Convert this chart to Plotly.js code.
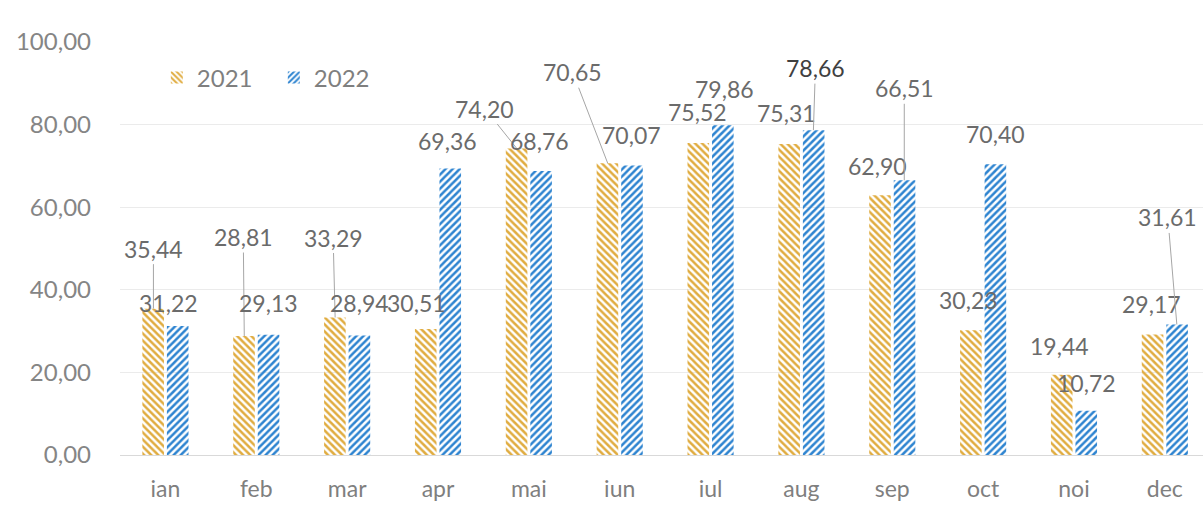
<!DOCTYPE html>
<html>
<head>
<meta charset="utf-8">
<script src="https://cdn.plot.ly/plotly-3.0.1.min.js"></script>
<style>html,body{margin:0;padding:0;background:#fff;}#chart{width:1203px;height:507px;}</style>
</head>
<body>
<div id="chart"></div>
<script>
// ---- data ----
const months = ['ian','feb','mar','apr','mai','iun','iul','aug','sep','oct','noi','dec'];
const seriesNames = ['2021', '2022'];
const values2021 = [35.44, 28.81, 33.29, 30.51, 74.20, 70.65, 75.52, 75.31, 62.90, 30.23, 19.44, 29.17];
const values2022 = [31.22, 29.13, 28.94, 69.36, 68.76, 70.07, 79.86, 78.66, 66.51, 70.40, 10.72, 31.61];
const yTickValues = [0, 20, 40, 60, 80, 100];

// ---- label placement (pixel offsets of label centre from bar top; leader flag) ----
const labelOffsets2021 = [[0,-60],[-1,-99],[-2,-80],[-9,-26],[-32,-40],[-35,-91],[-1,-31],[-3,-31],[-3,-29],[-3,-30],[-2,-29],[-1,-31]];
const leader2021 = [true,true,true,false,true,true,false,false,false,false,false,false];
const labelOffsets2022 = [[-9,-23],[0,-32],[0,-32],[-2,-28],[-1,-30],[0,-31],[2,-36],[2,-62],[0,-92],[0,-30],[1,-28],[-9,-107]];
const leader2022 = [false,false,false,false,false,false,false,true,true,false,false,true];

const FONT = 'Lato, "Open Sans", "Noto Sans", sans-serif';
const fmt = v => v.toFixed(2).replace('.', ',');

const gold = {bg: '#F7DE9F', fg: '#E0AC40'};
const blue = {bg: '#B3D9F4', fg: '#2E84D0'};

const traces = [
  {
    type: 'bar', name: seriesNames[0], x: months, y: values2021,
    marker: {color: gold.bg, line: {width: 0},
      pattern: {shape: '\\', fgcolor: gold.fg, size: 5, solidity: 0.5}},
    hoverinfo: 'skip'
  },
  {
    type: 'bar', name: seriesNames[1], x: months, y: values2022,
    marker: {color: blue.bg, line: {width: 0},
      pattern: {shape: '/', fgcolor: blue.fg, size: 5, solidity: 0.5}},
    hoverinfo: 'skip'
  }
];

const annotations = [];
function addLabels(vals, offs, leaders, shift) {
  vals.forEach((v, i) => {
    const special = (shift > 0 && months[i] === 'aug');
    annotations.push({
      x: months[i], y: v, xref: 'x', yref: 'y', xshift: shift,
      text: fmt(v), showarrow: true, arrowhead: 0, arrowwidth: 1, standoff: 0,
      arrowcolor: leaders[i] ? '#a6a6a6' : 'rgba(0,0,0,0)',
      ax: offs[i][0], ay: offs[i][1],
      font: {family: FONT, size: 23, color: special ? '#404040' : '#6b6b6b'}
    });
  });
}
addLabels(values2021, labelOffsets2021, leader2021, -12);
addLabels(values2022, labelOffsets2022, leader2022, 12);

const layout = {
  width: 1203, height: 507,
  margin: {l: 120, r: 0, t: 42, b: 52},
  paper_bgcolor: '#ffffff', plot_bgcolor: '#ffffff',
  font: {family: FONT, color: '#7f7f7f'},
  separators: ', ',
  barmode: 'group', bargap: 0.46, bargroupgap: 0.12,
  showlegend: true,
  legend: {orientation: 'h', x: 0.034, xanchor: 'left', y: 0.913, yanchor: 'middle',
    font: {family: FONT, size: 24, color: '#7f7f7f'}, bgcolor: 'rgba(0,0,0,0)',
    traceorder: 'normal', entrywidth: 72, entrywidthmode: 'pixels'},
  xaxis: {type: 'category', range: [-0.5, 11.42], showgrid: false, showline: false,
    ticks: '', tickfont: {family: FONT, size: 23, color: '#7f7f7f'}, ticklabelstandoff: 18,
    fixedrange: true},
  yaxis: {range: [0, 100], tickvals: yTickValues, tickformat: '.2f', showgrid: true,
    gridcolor: '#ebebeb', gridwidth: 1, zeroline: true, zerolinecolor: '#d9d9d9', zerolinewidth: 1,
    showline: false, ticks: '', tickfont: {family: FONT, size: 24, color: '#858585'},
    ticklabelstandoff: 28, fixedrange: true},
  annotations: annotations
};

Plotly.newPlot('chart', traces, layout, {displayModeBar: false, staticPlot: true});
</script>
</body>
</html>
